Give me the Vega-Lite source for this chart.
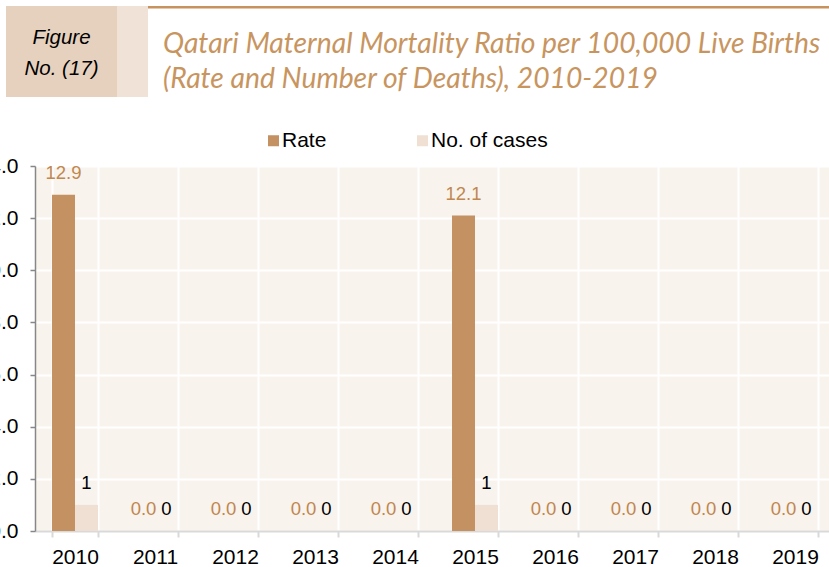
{
  "$schema": "https://vega.github.io/schema/vega-lite/v6.json",
  "padding": {"left": -23, "top": 1, "right": 0, "bottom": 0},
  "background": "white",
  "config": {"view": {"stroke": null}, "font": "Liberation Sans"},
  "spacing": 33,
  "resolve": {"scale": {"color": "independent"}, "legend": {"color": "independent"}},
  "vconcat": [
    {
      "hconcat": [
        {
          "width": 111,
          "height": 91,
          "view": {"fill": "#e6d1be", "stroke": null},
          "data": {"values": [{"label": "Figure\nNo. (17)"}]},
          "mark": {"type": "text", "lineBreak": "\n", "font": "Liberation Sans", "fontStyle": "italic", "fontSize": 20.5, "lineHeight": 31, "color": "black", "dy": -14},
          "encoding": {"text": {"field": "label"}}
        },
        {
          "width": 31,
          "height": 91,
          "view": {"fill": "#f0e2d6", "stroke": null},
          "data": {"values": [{}]},
          "mark": {"type": "text", "text": ""}
        },
        {
          "width": 681,
          "height": 2.5,
          "view": {"fill": "#c8925f", "stroke": null},
          "data": {"values": [{}]},
          "mark": {"type": "text", "text": ""},
          "title": {
            "text": ["Qatari Maternal Mortality Ratio per 100,000 Live Births", "(Rate and Number of Deaths), 2010-2019"],
            "orient": "bottom",
            "anchor": "start",
            "frame": "group",
            "dx": 15,
            "offset": 19,
            "font": "Lato",
            "fontStyle": "italic",
            "fontWeight": "normal",
            "fontSize": 28.3,
            "color": "#c8955f",
            "lineHeight": 35,
            "baseline": "top"
          }
        }
      ],
      "spacing": 0,
      "bounds": "flush"
    },
    {
      "hconcat": [
        {
          "width": 29,
          "height": 365,
          "data": {"values": [{}]},
          "mark": {"type": "text", "text": ""}
        },
        {
          "width": 800,
          "height": 365,
          "view": {"fill": "#f8f3ed", "stroke": null},
          "data": {
            "values": [
              {"year": "2010", "series": "Rate", "value": 12.9},
              {"year": "2010", "series": "No. of cases", "value": 1},
              {"year": "2011", "series": "Rate", "value": 0},
              {"year": "2011", "series": "No. of cases", "value": 0},
              {"year": "2012", "series": "Rate", "value": 0},
              {"year": "2012", "series": "No. of cases", "value": 0},
              {"year": "2013", "series": "Rate", "value": 0},
              {"year": "2013", "series": "No. of cases", "value": 0},
              {"year": "2014", "series": "Rate", "value": 0},
              {"year": "2014", "series": "No. of cases", "value": 0},
              {"year": "2015", "series": "Rate", "value": 12.1},
              {"year": "2015", "series": "No. of cases", "value": 1},
              {"year": "2016", "series": "Rate", "value": 0},
              {"year": "2016", "series": "No. of cases", "value": 0},
              {"year": "2017", "series": "Rate", "value": 0},
              {"year": "2017", "series": "No. of cases", "value": 0},
              {"year": "2018", "series": "Rate", "value": 0},
              {"year": "2018", "series": "No. of cases", "value": 0},
              {"year": "2019", "series": "Rate", "value": 0},
              {"year": "2019", "series": "No. of cases", "value": 0}
            ]
          },
          "encoding": {
            "x": {
              "field": "year",
              "type": "ordinal",
              "scale": {"paddingInner": 0.425, "paddingOuter": 0.2125},
              "axis": {
                "title": null,
                "labelAngle": 0,
                "tickBand": "extent",
                "grid": true,
                "gridColor": "white",
                "gridWidth": 2,
                "gridOpacity": 1,
                "domainColor": "#d9d9d9",
                "domainWidth": 2,
                "tickColor": "#d9d9d9",
                "tickWidth": 2,
                "tickSize": 6,
                "labelFontSize": 21,
                "labelFont": "Liberation Sans",
                "labelColor": "black",
                "labelPadding": 9
              }
            },
            "xOffset": {"field": "series", "type": "nominal", "scale": {"domain": ["Rate", "No. of cases"], "paddingInner": 0}},
            "y": {
              "field": "value",
              "type": "quantitative",
              "scale": {"domain": [0, 14], "nice": false},
              "axis": {
                "title": null,
                "values": [0, 2, 4, 6, 8, 10, 12, 14],
                "format": ".1f",
                "grid": true,
                "gridColor": "white",
                "gridWidth": 2,
                "gridOpacity": 1,
                "domainColor": "#878787",
                "domainWidth": 1.5,
                "tickColor": "#878787",
                "tickWidth": 1.5,
                "tickSize": 5,
                "labelFontSize": 21,
                "labelFont": "Liberation Sans",
                "labelColor": "black",
                "labelPadding": 12
              }
            }
          },
          "layer": [
            {
              "mark": {"type": "bar"},
              "encoding": {
                "color": {
                  "field": "series",
                  "type": "nominal",
                  "scale": {"domain": ["Rate", "No. of cases"], "range": ["#c39162", "#efe0d3"]},
                  "legend": {
                    "title": null,
                    "orient": "none",
                    "direction": "horizontal",
                    "legendX": 228,
                    "legendY": -36,
                    "symbolType": "square",
                    "symbolSize": 121,
                    "symbolStrokeWidth": 0,
                    "labelFontSize": 21,
                    "labelFont": "Liberation Sans",
                    "labelColor": "black",
                    "columnPadding": 85,
                    "labelOffset": -2
                  }
                }
              }
            },
            {
              "transform": [{"filter": "datum.series === 'Rate'"}],
              "mark": {"type": "text", "baseline": "middle", "dy": -22, "fontSize": 18.5, "font": "Liberation Sans", "color": "#c0874f"},
              "encoding": {"text": {"field": "value", "type": "quantitative", "format": ".1f"}}
            },
            {
              "transform": [{"filter": "datum.series === 'No. of cases'"}],
              "mark": {"type": "text", "baseline": "middle", "dy": -22, "fontSize": 18.5, "font": "Liberation Sans", "color": "black"},
              "encoding": {"text": {"field": "value", "type": "quantitative", "format": "d"}}
            }
          ]
        }
      ],
      "spacing": 0,
      "bounds": "flush",
      "resolve": {"scale": {"color": "independent"}, "legend": {"color": "independent"}}
    }
  ]
}
